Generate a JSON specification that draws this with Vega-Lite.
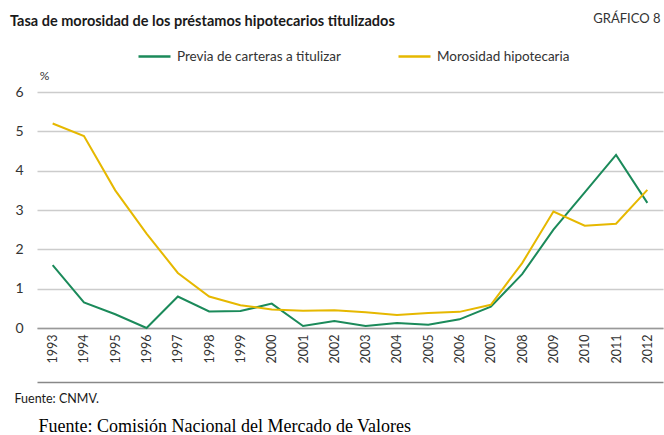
{
  "$schema": "https://vega.github.io/schema/vega-lite/v6.json",
  "width": 626,
  "height": 236,
  "autosize": {"type": "none"},
  "padding": {"left": 37, "top": 92, "right": 1, "bottom": 107},
  "background": "white",
  "config": {
    "view": {"stroke": null},
    "font": "Lato",
    "axis": {"labelFont": "Lato", "titleFont": "Lato"}
  },
  "title": {
    "text": "Tasa de morosidad de los préstamos hipotecarios titulizados",
    "anchor": "start",
    "frame": "group",
    "dx": -27,
    "dy": 17,
    "fontSize": 14.5,
    "fontWeight": "bold",
    "font": "Lato",
    "color": "#1a1a1a",
    "offset": 0
  },
  "data": {
    "values": [
      {"year": "1993", "serie": "Previa de carteras a titulizar", "v": 1.6},
      {"year": "1994", "serie": "Previa de carteras a titulizar", "v": 0.65},
      {"year": "1995", "serie": "Previa de carteras a titulizar", "v": 0.35},
      {"year": "1996", "serie": "Previa de carteras a titulizar", "v": 0.0},
      {"year": "1997", "serie": "Previa de carteras a titulizar", "v": 0.8},
      {"year": "1998", "serie": "Previa de carteras a titulizar", "v": 0.42},
      {"year": "1999", "serie": "Previa de carteras a titulizar", "v": 0.43},
      {"year": "2000", "serie": "Previa de carteras a titulizar", "v": 0.62},
      {"year": "2001", "serie": "Previa de carteras a titulizar", "v": 0.05},
      {"year": "2002", "serie": "Previa de carteras a titulizar", "v": 0.18},
      {"year": "2003", "serie": "Previa de carteras a titulizar", "v": 0.05},
      {"year": "2004", "serie": "Previa de carteras a titulizar", "v": 0.13},
      {"year": "2005", "serie": "Previa de carteras a titulizar", "v": 0.08},
      {"year": "2006", "serie": "Previa de carteras a titulizar", "v": 0.22},
      {"year": "2007", "serie": "Previa de carteras a titulizar", "v": 0.54},
      {"year": "2008", "serie": "Previa de carteras a titulizar", "v": 1.37},
      {"year": "2009", "serie": "Previa de carteras a titulizar", "v": 2.5},
      {"year": "2010", "serie": "Previa de carteras a titulizar", "v": 3.45},
      {"year": "2011", "serie": "Previa de carteras a titulizar", "v": 4.4},
      {"year": "2012", "serie": "Previa de carteras a titulizar", "v": 3.18},
      {"year": "1993", "serie": "Morosidad hipotecaria", "v": 5.2},
      {"year": "1994", "serie": "Morosidad hipotecaria", "v": 4.88},
      {"year": "1995", "serie": "Morosidad hipotecaria", "v": 3.5},
      {"year": "1996", "serie": "Morosidad hipotecaria", "v": 2.4},
      {"year": "1997", "serie": "Morosidad hipotecaria", "v": 1.4},
      {"year": "1998", "serie": "Morosidad hipotecaria", "v": 0.8},
      {"year": "1999", "serie": "Morosidad hipotecaria", "v": 0.58},
      {"year": "2000", "serie": "Morosidad hipotecaria", "v": 0.47},
      {"year": "2001", "serie": "Morosidad hipotecaria", "v": 0.44},
      {"year": "2002", "serie": "Morosidad hipotecaria", "v": 0.45},
      {"year": "2003", "serie": "Morosidad hipotecaria", "v": 0.4},
      {"year": "2004", "serie": "Morosidad hipotecaria", "v": 0.33},
      {"year": "2005", "serie": "Morosidad hipotecaria", "v": 0.38},
      {"year": "2006", "serie": "Morosidad hipotecaria", "v": 0.41},
      {"year": "2007", "serie": "Morosidad hipotecaria", "v": 0.59},
      {"year": "2008", "serie": "Morosidad hipotecaria", "v": 1.65},
      {"year": "2009", "serie": "Morosidad hipotecaria", "v": 2.96},
      {"year": "2010", "serie": "Morosidad hipotecaria", "v": 2.6},
      {"year": "2011", "serie": "Morosidad hipotecaria", "v": 2.65},
      {"year": "2012", "serie": "Morosidad hipotecaria", "v": 3.51}
    ]
  },
  "encoding": {
    "x": {"field": "year", "type": "ordinal", "scale": {"type": "point", "padding": 0.5}},
    "y": {"field": "v", "type": "quantitative", "scale": {"domain": [0, 6], "nice": false, "zero": true}},
    "color": {
      "field": "serie",
      "type": "nominal",
      "scale": {"domain": ["Previa de carteras a titulizar", "Morosidad hipotecaria"], "range": ["#1b8a5a", "#e6b800"]},
      "legend": {
        "title": null,
        "orient": "none",
        "direction": "horizontal",
        "legendX": 100,
        "legendY": -53,
        "symbolType": "stroke",
        "symbolSize": 1024,
        "symbolStrokeWidth": 2.5,
        "labelFontSize": 13.5,
        "labelFont": "Lato",
        "labelColor": "#333333",
        "labelOffset": 5,
        "labelLimit": 300,
        "columnPadding": 52
      }
    }
  },
  "layer": [
    {
      "transform": [{"filter": "datum.serie === 'Previa de carteras a titulizar'"}],
      "mark": {"type": "line", "strokeWidth": 2},
      "encoding": {
        "x": {
          "field": "year", "type": "ordinal", "scale": {"type": "point", "padding": 0.5},
          "axis": {
            "orient": "bottom",
            "labelAngle": -90, "labelFontSize": 12.5, "labelColor": "#333333", "labelPadding": 6,
            "ticks": false, "domainColor": "#999999", "domainWidth": 1.5,
            "title": "Fuente: CNMV.", "titleFontSize": 12.5, "titleFontWeight": "normal", "titleColor": "#1a1a1a",
            "titleAnchor": "start", "titleAlign": "left", "titleBaseline": "alphabetic", "titleX": -23, "titleY": 74
          }
        },
        "y": {
          "field": "v", "type": "quantitative", "scale": {"domain": [0, 6], "nice": false},
          "axis": {
            "orient": "left",
            "values": [0, 1, 2, 3, 4, 5, 6], "domain": false, "ticks": false, "grid": true, "gridColor": "#cccccc", "gridWidth": 1.5,
            "labelFontSize": 14, "labelColor": "#333333", "labelPadding": 14,
            "title": "%", "titleAngle": 0, "titleFontSize": 12, "titleFontWeight": "normal", "titleColor": "#333333",
            "titleAlign": "center", "titleBaseline": "middle", "titleX": 7, "titleY": -17
          }
        }
      }
    },
    {
      "transform": [{"filter": "datum.serie === 'Morosidad hipotecaria'"}],
      "mark": {"type": "line", "strokeWidth": 2},
      "encoding": {
        "x": {
          "field": "year", "type": "ordinal", "scale": {"type": "point", "padding": 0.5},
          "axis": {
            "orient": "bottom",
            "offset": 54, "labels": false, "ticks": false, "domainColor": "#888888", "domainWidth": 1.5,
            "title": "Fuente: Comisión Nacional del Mercado de Valores", "titleFont": "Liberation Serif", "titleFontSize": 18,
            "titleFontWeight": "normal", "titleColor": "#000000",
            "titleAnchor": "start", "titleAlign": "left", "titleBaseline": "alphabetic", "titleX": 1, "titleY": 49
          }
        },
        "y": {
          "field": "v", "type": "quantitative", "scale": {"domain": [0, 6], "nice": false},
          "axis": {
            "orient": "right", "labels": false, "ticks": false, "domain": false, "grid": false,
            "title": "GRÁFICO 8", "titleAngle": 0, "titleFontSize": 13, "titleFontWeight": "normal", "titleColor": "#333333",
            "titleAlign": "right", "titleBaseline": "middle", "titleX": -3, "titleY": -74
          }
        }
      }
    }
  ],
  "resolve": {"axis": {"x": "independent", "y": "independent"}}
}
